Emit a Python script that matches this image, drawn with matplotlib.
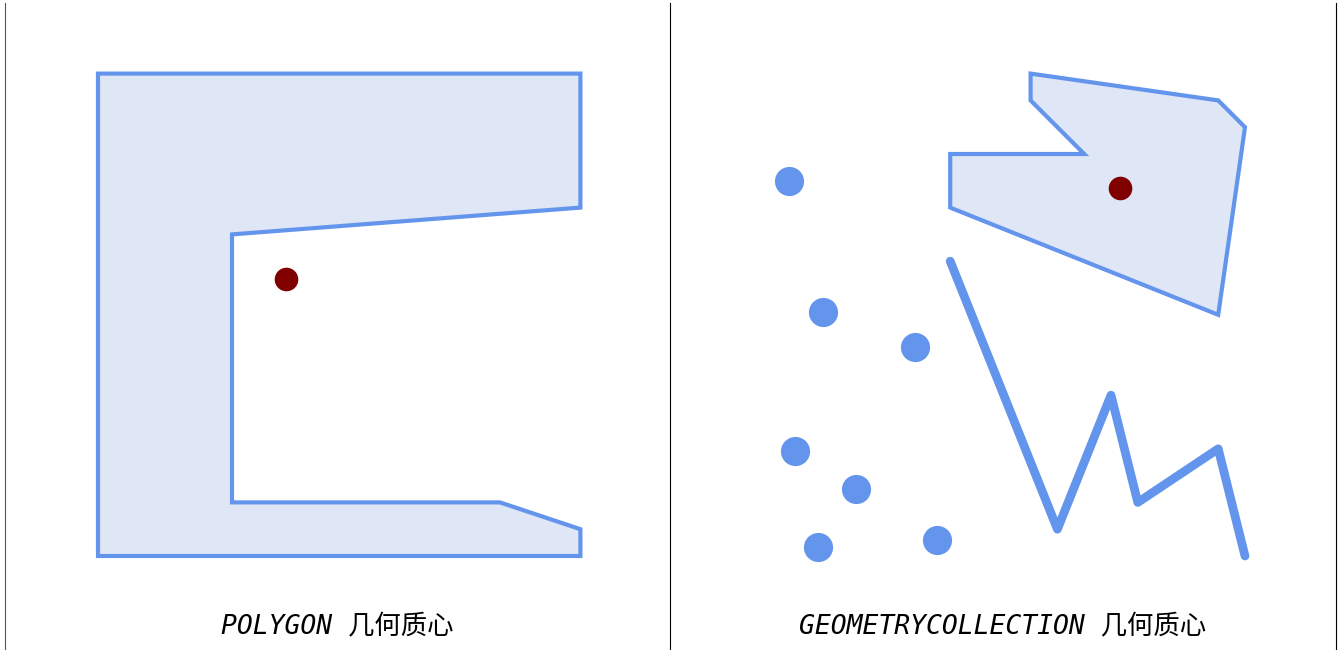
import matplotlib
matplotlib.use("Agg")
import matplotlib.pyplot as plt
from matplotlib.patches import Polygon

# left panel: polygon and its centroid
poly_a_x = [0, 18, 18, 15, 5, 5, 18, 18, 0]
poly_a_y = [0, 0, 1, 2, 2, 12, 13, 18, 18]
centroid_a = (7.03, 10.34)

# right panel: points, line, polygon and centroid
pts_x = [0.0, 1.25, 4.7, 0.2, 2.5, 1.05, 5.5]
pts_y = [14.0, 9.1, 7.8, 3.9, 2.5, 0.35, 0.6]
line_x = [6, 10, 12, 13, 16, 17]
line_y = [11, 1, 6, 2, 4, 0]
poly_b_x = [9, 9, 11, 6, 6, 16, 17, 16]
poly_b_y = [18, 17, 15, 15, 13, 9, 16, 17]
centroid_b = (12.35, 13.73)

titles = ["POLYGON 几何质心", "GEOMETRYCOLLECTION 几何质心"]

edge = "#6495ED"
fill = "#dfe6f5"
dot = "#800000"

fig = plt.figure(figsize=(13.4, 6.5), dpi=100)
H = 650.0
ax1 = fig.add_axes([5 / 1340, 0, 665 / 1340, 647 / H])
ax2 = fig.add_axes([670 / 1340, 0, 666 / 1340, 647 / H])

for ax in (ax1, ax2):
    for s in ax.spines.values():
        s.set_visible(False)
    ax.spines["left"].set_visible(True)
    ax.set_xticks([])
    ax.set_yticks([])
ax2.spines["right"].set_visible(True)
ax1.spines["left"].set_color("#555555")

sc = 26.8  # pixels per unit
ax1.set_xlim((5 - 98) / sc, (670 - 98) / sc)
ax2.set_xlim((670 - 789.4) / sc, (1336 - 789.4) / sc)
for ax in (ax1, ax2):
    ax.set_ylim(-94 / sc, (556 - 3) / sc)

ax1.add_patch(Polygon(list(zip(poly_a_x, poly_a_y)), closed=True,
                      facecolor=fill, edgecolor=edge, linewidth=3))
ax1.plot(*centroid_a, "o", color=dot, markersize=17, markeredgewidth=0)

ax2.add_patch(Polygon(list(zip(poly_b_x, poly_b_y)), closed=True,
                      facecolor=fill, edgecolor=edge, linewidth=3))
ax2.plot(line_x, line_y, color=edge, linewidth=6.3,
         solid_capstyle="round", solid_joinstyle="round")
ax2.plot(pts_x, pts_y, "o", color=edge, markersize=21, markeredgewidth=0)
ax2.plot(*centroid_b, "o", color=dot, markersize=17, markeredgewidth=0)

for ax, t in zip((ax1, ax2), titles):
    ax.text(0.5, 23 / 647, t, transform=ax.transAxes, ha="center", va="center",
            family=["DejaVu Sans Mono", "Noto Sans CJK SC"], style="italic",
            fontsize=19)

fig.savefig("out.png", dpi=100)
